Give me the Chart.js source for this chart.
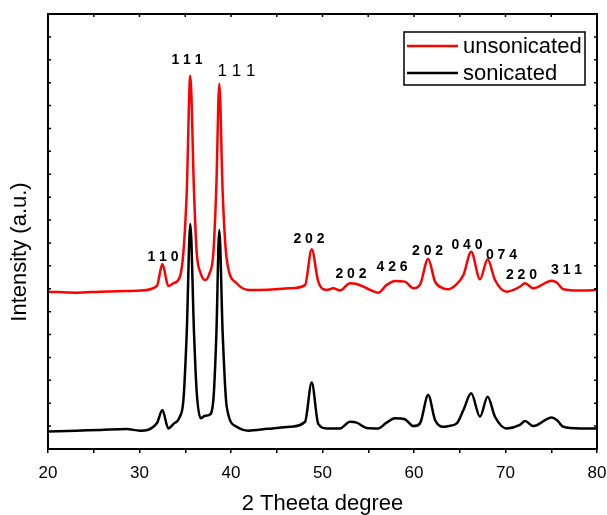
<!DOCTYPE html>
<html>
<head>
<meta charset="utf-8">
<title>XRD pattern</title>
<script src="https://cdn.jsdelivr.net/npm/chart.js@4.4.1/dist/chart.umd.min.js"></script>
<style>
    html, body { margin: 0; padding: 0; background: #fff; }
    #wrap { width: 607px; height: 515px; }
</style>
</head>
<body>
<div id="wrap"><canvas id="xrdChart" width="607" height="515"></canvas></div>
<script>
// 2 theta positions (deg)
const twoTheta = [
    20.0, 23.1, 25.7, 28.6, 30.05, 31.9, 32.5, 33.15, 33.7, 34.4,
    34.8, 35.16, 35.55, 35.96, 36.25, 36.69, 37.16, 37.63, 38.07, 38.4,
    38.72, 39.09, 39.53, 40.62, 41.9, 44.0, 46.45, 48.09, 48.82, 49.54,
    50.46, 51.18, 51.91, 53.0, 53.74, 54.83, 56.1, 57.0, 57.92, 59.0,
    59.93, 60.66, 61.55, 62.3, 63.2, 63.75, 64.67, 65.4, 66.25, 67.21,
    68.05, 68.85, 70.13, 71.58, 72.13, 73.04, 75.05, 75.6, 76.32, 78.14,
    80.0
];

// intensity (a.u.), red trace is offset upwards
const unsonicated = [
    6.87, 6.83, 6.87, 6.90, 6.92, 7.12, 8.08, 7.12, 7.24, 7.50,
    8.60, 11.2, 16.3, 11.2, 8.60, 7.67, 7.38, 7.65, 8.55, 11.5,
    15.95, 11.2, 8.30, 7.24, 6.95, 6.96, 7.02, 7.16, 8.72, 7.31,
    6.95, 7.02, 6.92, 7.24, 7.21, 7.02, 6.83, 7.16, 7.34, 7.31,
    7.02, 7.18, 8.30, 7.31, 7.02, 6.98, 7.20, 7.60, 8.62, 7.41,
    8.29, 7.38, 6.87, 7.09, 7.24, 7.02, 7.35, 7.27, 6.98, 6.92,
    6.95
];

const sonicated = [
    0.76, 0.80, 0.83, 0.87, 0.80, 1.12, 1.70, 0.90, 1.09, 1.40,
    2.14, 5.05, 9.83, 5.05, 2.50, 1.34, 1.45, 1.49, 2.14, 5.00,
    9.57, 5.05, 1.85, 0.97, 0.80, 0.88, 0.97, 1.19, 2.90, 1.10,
    0.90, 0.90, 0.90, 1.19, 1.15, 0.92, 0.90, 1.15, 1.34, 1.30,
    1.00, 1.12, 2.36, 1.27, 0.97, 1.00, 1.12, 1.70, 2.43, 1.41,
    2.28, 1.41, 0.90, 1.05, 1.22, 1.00, 1.38, 1.27, 0.97, 0.90,
    0.90
];

const seriesNames = ['unsonicated', 'sonicated'];
const seriesColors = ['#ff0000', '#000000'];

// hkl labels and where they sit (2 theta, intensity)
const hklText = ['1 1 1', '1 1 1', '1 1 0', '2 0 2', '2 0 2', '4 2 6', '2 0 2', '0 4 0', '0 7 4', '2 2 0', '3 1 1'];
const hklTheta = [35.19, 40.60, 32.57, 48.52, 53.11, 57.60, 61.48, 65.79, 69.56, 71.75, 76.67];
const hklLevel = [16.99, 16.51, 8.37, 9.17, 7.65, 7.93, 8.65, 8.89, 8.45, 7.60, 7.82];

const xTitle = '2 Theeta degree';
const yTitle = 'Intensity (a.u.)';
const FONT = '"Liberation Sans", Arial, sans-serif';

(() => {
    const ctx = document.getElementById('xrdChart').getContext('2d');

    const toPoints = ys => twoTheta.map((x, i) => ({ x, y: ys[i] }));

    // frame, inner ticks, y title, hkl labels, boxed legend
    const decorations = {
        id: 'decorations',
        afterDraw(chart) {
            const { ctx: c, chartArea: a, scales } = chart;
            const xs = scales.x, ys = scales.y;
            c.save();

            c.strokeStyle = '#000';
            c.lineWidth = 1.5;
            c.beginPath();
            xs.ticks.forEach(t => {
                const px = xs.getPixelForValue(t.value);
                c.moveTo(px, a.top);
                c.lineTo(px, a.top + 3);
            });
            for (let v = ys.min + 1; v < ys.max; v++) {
                const py = ys.getPixelForValue(v);
                c.moveTo(a.left, py);
                c.lineTo(a.left + 3, py);
                c.moveTo(a.right, py);
                c.lineTo(a.right - 3, py);
            }
            c.stroke();

            c.lineWidth = 2;
            c.strokeRect(a.left, a.top, a.right - a.left, a.bottom - a.top);

            // y axis title
            c.fillStyle = '#000';
            c.font = `22px ${FONT}`;
            c.textAlign = 'center';
            c.textBaseline = 'middle';
            c.save();
            c.translate(20, 252);
            c.rotate(-Math.PI / 2);
            c.fillText(yTitle, 0, 0);
            c.restore();

            // hkl labels
            hklText.forEach((txt, i) => {
                c.font = i === 1 ? `17px ${FONT}` : `bold 14px ${FONT}`;
                c.fillText(txt, xs.getPixelForValue(hklTheta[i]), ys.getPixelForValue(hklLevel[i]));
            });

            // legend
            const lx = a.right - 193, ly = a.top + 18;
            c.lineWidth = 1.5;
            c.strokeRect(lx, ly, 181, 53);
            c.font = `22px ${FONT}`;
            c.textAlign = 'left';
            chart.data.datasets.forEach((ds, i) => {
                const yy = ly + 14 + i * 27;
                c.strokeStyle = ds.borderColor;
                c.lineWidth = 2.5;
                c.beginPath();
                c.moveTo(lx + 3, yy);
                c.lineTo(lx + 54, yy);
                c.stroke();
                c.fillStyle = '#000';
                c.fillText(ds.label, lx + 59, yy + 1);
            });

            c.restore();
        }
    };

    new Chart(ctx, {
        type: 'line',
        data: {
            datasets: [
                {
                    label: seriesNames[0],
                    data: toPoints(unsonicated),
                    borderColor: seriesColors[0],
                    borderWidth: 2.5,
                    pointRadius: 0,
                    cubicInterpolationMode: 'monotone',
                    order: 2
                },
                {
                    label: seriesNames[1],
                    data: toPoints(sonicated),
                    borderColor: seriesColors[1],
                    borderWidth: 2.5,
                    pointRadius: 0,
                    cubicInterpolationMode: 'monotone',
                    order: 1
                }
            ]
        },
        options: {
            responsive: false,
            animation: false,
            layout: { padding: { left: 48, top: 14, right: 10, bottom: 0 } },
            plugins: {
                legend: { display: false },
                tooltip: { enabled: false }
            },
            scales: {
                x: {
                    type: 'linear',
                    min: 20,
                    max: 80,
                    border: { display: false },
                    grid: {
                        drawOnChartArea: false,
                        drawTicks: true,
                        tickLength: 4,
                        color: '#000',
                        lineWidth: 1.5
                    },
                    ticks: {
                        stepSize: 5,
                        autoSkip: false,
                        maxRotation: 0,
                        padding: 10,
                        color: '#000',
                        font: { family: FONT, size: 17 },
                        callback: v => (v % 10 === 0 ? v : '')
                    },
                    title: {
                        display: true,
                        text: xTitle,
                        color: '#000',
                        font: { family: FONT, size: 22, lineHeight: 1 },
                        padding: { top: 1, bottom: 0 }
                    },
                    afterFit: s => {
                        s.height = 66;
                        s.paddingLeft = 0;
                        s.paddingRight = 0;
                    }
                },
                y: {
                    type: 'linear',
                    min: 0,
                    max: 19,
                    display: false
                }
            }
        },
        plugins: [decorations]
    });
})();
</script>
</body>
</html>
